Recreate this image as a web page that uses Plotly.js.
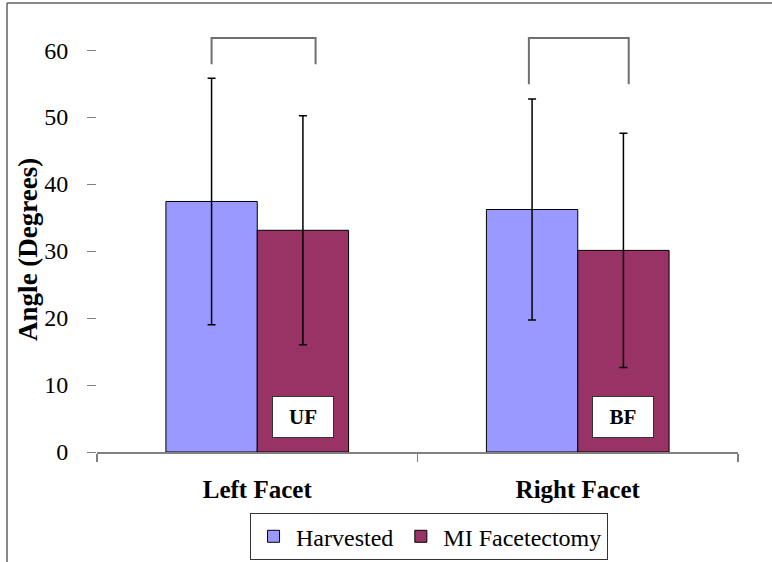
<!DOCTYPE html>
<html>
<head>
<meta charset="utf-8">
<script src="https://cdn.plot.ly/plotly-3.0.1.min.js"></script>
<style>html,body{margin:0;padding:0;background:#fff;}#chart{width:772px;height:562px;}</style>
</head>
<body>
<div id="chart"></div>
<script>
// ---- data ----
const categories = ["Left Facet", "Right Facet"];
const seriesNames = ["Harvested", "MI Facetectomy"];
const harvested = [37.4, 36.2];
const harvestedSD = [18.4, 16.5];
const miFacetectomy = [33.1, 30.1];
const miFacetectomySD = [17.1, 17.5];
const boxLabels = ["UF", "BF"];
const yTickVals = [0, 10, 20, 30, 40, 50, 60];
const yTitle = "Angle (Degrees)";

const serif = "Liberation Serif";
const bargap = 0.43;
const barW = (1 - bargap) / 2;

const traces = [
  {
    type: "bar", name: seriesNames[0], x: categories, y: harvested,
    marker: {color: "#9999FF", line: {color: "#000", width: 1}},
    error_y: {type: "data", array: harvestedSD, visible: true, color: "#000", thickness: 1.5, width: 4},
    hoverinfo: "skip"
  },
  {
    type: "bar", name: seriesNames[1], x: categories, y: miFacetectomy,
    marker: {color: "#993366", line: {color: "#000", width: 1}},
    error_y: {type: "data", array: miFacetectomySD, visible: true, color: "#000", thickness: 1.5, width: 4},
    hoverinfo: "skip"
  }
];

// significance brackets (decoration)
const brackets = [
  {x0: -barW / 2, x1: 0.182, top: 61.8, leg: 57.9},
  {x0: 1 - barW / 2 - 0.01, x1: 1.159, top: 61.8, leg: 54.9}
];
const shapes = [];
brackets.forEach(b => {
  shapes.push({type: "path", xref: "x", yref: "y",
    path: `M ${b.x0} ${b.leg} L ${b.x0} ${b.top} L ${b.x1} ${b.top} L ${b.x1} ${b.leg}`,
    line: {color: "#707070", width: 2}});
});
// outer frame (left + top)
shapes.push({type: "line", xref: "paper", yref: "paper", x0: -0.1404, x1: -0.1404, y0: 1.064, y1: -0.3, line: {color: "#606060", width: 1.5}});
shapes.push({type: "line", xref: "paper", yref: "paper", x0: -0.1404, x1: 1.1, y0: 1.064, y1: 1.064, line: {color: "#606060", width: 1.5}});

const annotations = boxLabels.map((t, i) => ({
  x: i + barW / 2, y: 5.2, xref: "x", yref: "y", text: "<b>" + t + "</b>", showarrow: false,
  font: {family: serif, size: 21, color: "#000"},
  bgcolor: "#fff", bordercolor: "#333", borderwidth: 1, borderpad: 9, width: 42, height: 22
}));
// y-axis title placed as rotated annotation
annotations.push({
  xref: "paper", yref: "paper", x: -0.1076, y: 0.479, xanchor: "center", yanchor: "middle",
  text: "<b>" + yTitle + "</b>", textangle: -90, showarrow: false,
  font: {family: serif, size: 27, color: "#000"}
});

const layout = {
  width: 772, height: 562,
  margin: {l: 97, r: 34, t: 30, b: 110, autoexpand: false},
  paper_bgcolor: "#fff", plot_bgcolor: "#fff",
  font: {family: serif, color: "#000"},
  barmode: "group", bargap: bargap, bargroupgap: 0,
  showlegend: true,
  legend: {orientation: "h", x: 0.518, xanchor: "center", y: -0.145, yanchor: "top",
    bordercolor: "#333", borderwidth: 1, font: {family: serif, size: 24, color: "#000"},
    itemwidth: 35, tracegroupgap: 0},
  xaxis: {
    type: "category", range: [-0.5, 1.5], showline: true, linecolor: "#808080", linewidth: 1.5,
    ticks: "outside", tickson: "boundaries", ticklen: 8, tickcolor: "#808080", tickwidth: 1.5,
    ticklabelstandoff: 14, showgrid: false, zeroline: false,
    tickfont: {family: serif, size: 25, color: "#000", weight: "bold"}
  },
  yaxis: {
    range: [0, 63], tickvals: yTickVals, ticktext: yTickVals.map(String),
    showline: false, showgrid: false, zeroline: false,
    ticks: "outside", ticklen: 9, tickcolor: "#808080", tickwidth: 1,
    tickfont: {family: serif, size: 24, color: "#000"}, ticklabelstandoff: 14
  },
  shapes: shapes,
  annotations: annotations
};

Plotly.newPlot("chart", traces, layout, {staticPlot: true, displayModeBar: false});
</script>
</body>
</html>
